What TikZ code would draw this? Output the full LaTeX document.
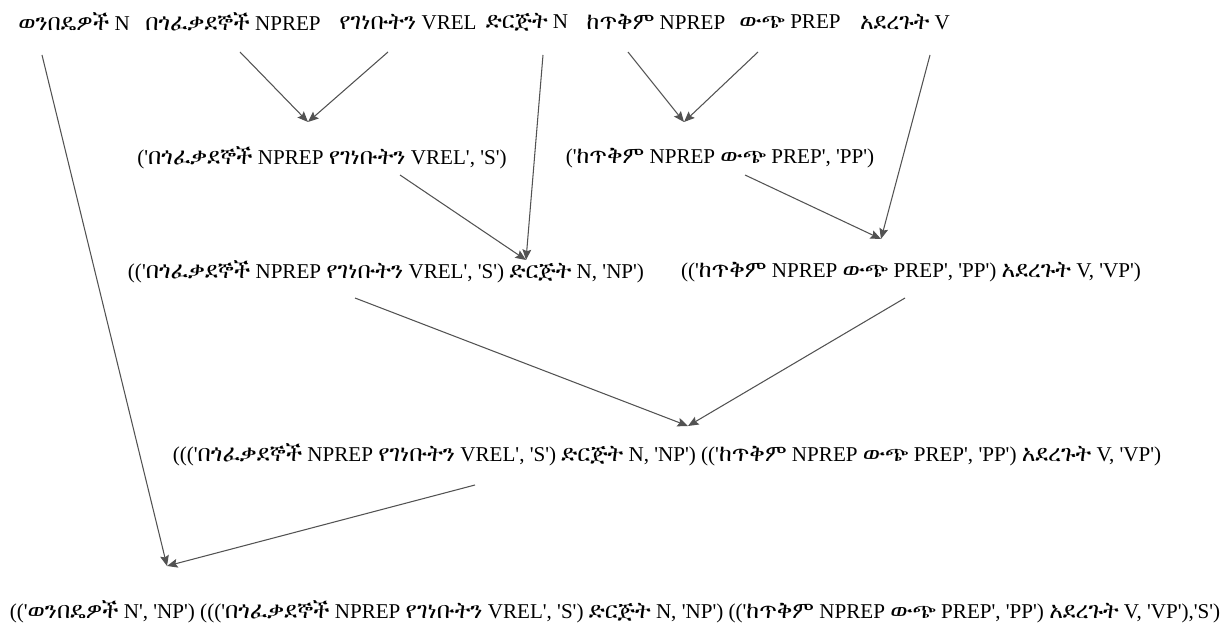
\documentclass[tikz,border=0pt]{standalone}
\usepackage{fontspec}
\setmainfont{Liberation Serif}[Ligatures=TeXOff]
% Ethiopic words need a font of their own
\IfFontExistsTF{FreeSerif}{\newfontfamily\amfont{FreeSerif}[Scale=1.1]}{%
  \IfFontExistsTF{Abyssinica SIL}{\newfontfamily\amfont{Abyssinica SIL}[Scale=1.05]}{%
    \IfFontExistsTF{Noto Sans Ethiopic}{\newfontfamily\amfont{Noto Sans Ethiopic}}{%
      \newfontfamily\amfont{DejaVu Sans}}}}
\newcommand{\am}[1]{{\amfont #1}}
\usetikzlibrary{arrows.meta}

\begin{document}
\begin{tikzpicture}[x=0.02cm,y=-0.02cm,
  lbl/.style={inner sep=0pt,font=\fontsize{12}{14}\selectfont},
  arr/.style={draw=black!68,line width=0.6pt,-{Stealth[length=6pt,width=5pt,inset=1pt]}}]
  \useasboundingbox (0,0) rectangle (1230,634);

  % Words
  \node[lbl] (w1) at (74,22) {\am{ወንበዴዎች} N};
  \node[lbl] (w2) at (233,22) {\am{በጎፈቃደኞች} NPREP};
  \node[lbl] (w3) at (408,22) {\am{የገነቡትን} VREL};
  \node[lbl] (w4) at (527,22) {\am{ድርጅት} N};
  \node[lbl] (w5) at (656,22) {\am{ከጥቅም} NPREP};
  \node[lbl] (w6) at (790,22) {\am{ውጭ} PREP};
  \node[lbl] (w7) at (905,22) {\am{አደረጉት} V};

  % Phrases
  \node[lbl] (s1) at (322,158) {('\am{በጎፈቃደኞች} NPREP \am{የገነቡትን} VREL', 'S')};
  \node[lbl] (pp) at (720,158) {('\am{ከጥቅም} NPREP \am{ውጭ} PREP', 'PP')};
  \node[lbl] (np) at (386,272) {(('\am{በጎፈቃደኞች} NPREP \am{የገነቡትን} VREL', 'S') \am{ድርጅት} N, 'NP')};
  \node[lbl] (vp) at (911,272) {(('\am{ከጥቅም} NPREP \am{ውጭ} PREP', 'PP') \am{አደረጉት} V, 'VP')};
  \node[lbl] (npvp) at (667,455) {((('\am{በጎፈቃደኞች} NPREP \am{የገነቡትን} VREL', 'S') \am{ድርጅት} N, 'NP') (('\am{ከጥቅም} NPREP \am{ውጭ} PREP', 'PP') \am{አደረጉት} V, 'VP')};
  \node[lbl] (sent) at (615,612) {(('\am{ወንበዴዎች} N', 'NP') ((('\am{በጎፈቃደኞች} NPREP \am{የገነቡትን} VREL', 'S') \am{ድርጅት} N, 'NP') (('\am{ከጥቅም} NPREP \am{ውጭ} PREP', 'PP') \am{አደረጉት} V, 'VP'),'S')};

  % Arrow ends
  \coordinate (w1-out) at (42,55);
  \coordinate (w2-out) at (240,52);
  \coordinate (w3-out) at (388,52);
  \coordinate (w4-out) at (543,55);
  \coordinate (w5-out) at (628,52);
  \coordinate (w6-out) at (758,52);
  \coordinate (w7-out) at (930,55);
  \coordinate (s1-in) at (308,122);
  \coordinate (s1-out) at (400,175);
  \coordinate (pp-in) at (684,122);
  \coordinate (pp-out) at (745,175);
  \coordinate (np-in) at (526,260);
  \coordinate (np-out) at (355,298);
  \coordinate (vp-in) at (881,239);
  \coordinate (vp-out) at (905,298);
  \coordinate (npvp-in) at (688,426);
  \coordinate (npvp-out) at (475,485);
  \coordinate (sent-in) at (167,566);

  % Arrows
  \draw[arr] (w2-out) -- (s1-in);
  \draw[arr] (w3-out) -- (s1-in);
  \draw[arr] (w5-out) -- (pp-in);
  \draw[arr] (w6-out) -- (pp-in);
  \draw[arr] (s1-out) -- (np-in);
  \draw[arr] (w4-out) -- (np-in);
  \draw[arr] (pp-out) -- (vp-in);
  \draw[arr] (w7-out) -- (vp-in);
  \draw[arr] (np-out) -- (npvp-in);
  \draw[arr] (vp-out) -- (npvp-in);
  \draw[arr] (w1-out) -- (sent-in);
  \draw[arr] (npvp-out) -- (sent-in);
\end{tikzpicture}
\end{document}
